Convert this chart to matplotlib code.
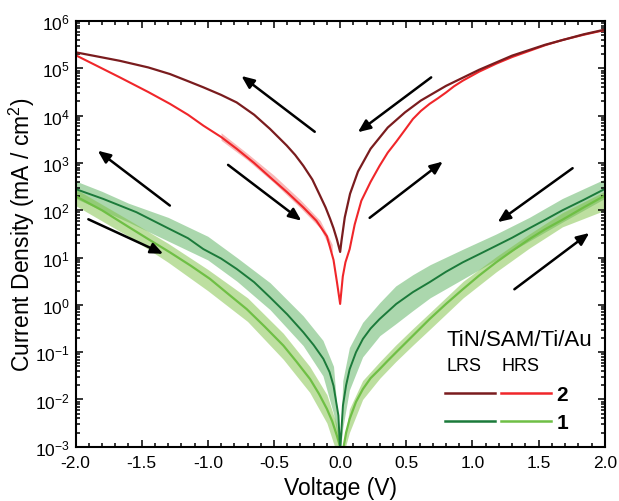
import numpy as np
import matplotlib
matplotlib.use("Agg")
from matplotlib import pyplot as plt
from matplotlib.lines import Line2D
from matplotlib.ticker import MultipleLocator, LogLocator, NullFormatter

plt.rcParams['font.family'] = ['Liberation Sans', 'DejaVu Sans']
plt.rcParams['mathtext.fontset'] = 'custom'
plt.rcParams['mathtext.rm'] = 'Liberation Sans'
plt.rcParams['mathtext.it'] = 'Liberation Sans:italic'
plt.rcParams['mathtext.bf'] = 'Liberation Sans:bold'

# values, current density given as log10(mA/cm2)
v_lrs2 = [-2.0, -1.85, -1.665, -1.45, -1.286, -1.15, -1.034, -0.9, -0.782, -0.65, -0.53, -0.404, -0.34,
          -0.278, -0.21, -0.152, -0.11, -0.076, -0.05, -0.025, 0.0,
          0.01, 0.035, 0.075, 0.135, 0.23, 0.36, 0.49, 0.61, 0.8, 1.05, 1.3, 1.55, 1.84, 2.0]
lg_lrs2 = [5.34, 5.26, 5.16, 5.02, 4.88, 4.73, 4.60, 4.44, 4.28, 4.02, 3.72, 3.37, 3.17,
           2.94, 2.65, 2.31, 2.06, 1.82, 1.62, 1.39, 1.12,
           1.35, 1.85, 2.35, 2.82, 3.3, 3.75, 4.07, 4.32, 4.63, 4.97, 5.27, 5.5, 5.72, 5.82]

v_hrs2 = [-2.0, -1.85, -1.665, -1.45, -1.286, -1.15, -1.034, -0.9, -0.782, -0.65, -0.53, -0.4,
          -0.278, -0.18, -0.10, -0.05, -0.024, 0.0,
          0.02, 0.04, 0.072, 0.11, 0.16, 0.23, 0.298, 0.36, 0.424, 0.49, 0.55, 0.61, 0.676, 0.74,
          0.80, 0.86, 0.927, 1.05, 1.18, 1.3, 1.43, 1.55, 1.68, 1.84, 2.0]
lg_hrs2 = [5.28, 5.07, 4.81, 4.50, 4.25, 4.02, 3.79, 3.55, 3.30, 3.0, 2.70, 2.38,
           2.06, 1.78, 1.45, 0.95, 0.48, 0.02,
           0.6, 0.9, 1.18, 1.7, 2.2, 2.6, 2.94, 3.22, 3.45, 3.7, 3.93, 4.1, 4.25, 4.37,
           4.49, 4.62, 4.74, 4.93, 5.10, 5.24, 5.37, 5.49, 5.60, 5.71, 5.81]

v_hrs2_band = [-0.9, -0.7, -0.5, -0.3, -0.15, -0.06]
lg_hrs2_lo = [3.48, 3.06, 2.58, 2.05, 1.62, 1.10]
lg_hrs2_hi = [3.64, 3.20, 2.74, 2.22, 1.78, 1.28]

v_lrs1 = [-2.0, -1.79, -1.54, -1.3, -1.15, -1.034, -0.9, -0.782, -0.65, -0.53, -0.4, -0.278, -0.2,
          -0.127, -0.08, -0.05, -0.013, 0.0,
          0.021, 0.045, 0.072, 0.12, 0.172, 0.23, 0.298, 0.424, 0.55, 0.676, 0.8, 0.927, 1.05,
          1.179, 1.3, 1.43, 1.55, 1.68, 1.84, 2.0]
lg_lrs1 = [2.45, 2.24, 1.96, 1.62, 1.41, 1.18, 0.98, 0.76, 0.48, 0.16, -0.2, -0.58, -0.85,
           -1.14, -1.42, -1.71, -2.34, -3.1,
           -2.13, -1.7, -1.36, -1.0, -0.72, -0.5, -0.30, 0.02, 0.27, 0.48, 0.70, 0.90, 1.07,
           1.25, 1.42, 1.62, 1.8, 2.0, 2.22, 2.45]

v_hrs1 = [-2.0, -1.8, -1.6, -1.45, -1.286, -1.13, -0.984, -0.85, -0.706, -0.57, -0.429, -0.33,
          -0.227, -0.16, -0.10, -0.06, -0.025, 0.01,
          0.02, 0.045, 0.072, 0.12, 0.172, 0.23, 0.298, 0.36, 0.424, 0.55, 0.676, 0.8, 0.927,
          1.05, 1.179, 1.3, 1.43, 1.55, 1.68, 1.84, 2.0]
lg_hrs1 = [2.30, 2.0, 1.65, 1.39, 1.11, 0.83, 0.55, 0.24, -0.09, -0.46, -0.86, -1.2,
           -1.57, -1.88, -2.20, -2.46, -2.76, -3.1,
           -3.1, -2.7, -2.41, -2.05, -1.78, -1.55, -1.36, -1.18, -1.0, -0.65, -0.30, 0.02, 0.33,
           0.62, 0.90, 1.14, 1.39, 1.6, 1.8, 2.06, 2.31]

v_lrs1_band = [-2.0, -1.8, -1.6, -1.3, -1.0, -0.78, -0.53, -0.28, -0.13, -0.05, 0.0,
               0.02, 0.07, 0.17, 0.3, 0.42, 0.55, 0.68, 0.93, 1.18, 1.43, 1.68, 2.0]
lg_lrs1_hi = [2.62, 2.40, 2.15, 1.85, 1.45, 1.0, 0.47, -0.23, -0.75, -1.3, -3.0,
              -1.6, -0.9, -0.37, 0.05, 0.4, 0.64, 0.85, 1.18, 1.5, 1.85, 2.25, 2.66]
lg_lrs1_lo = [2.25, 2.0, 1.75, 1.35, 0.95, 0.5, -0.1, -0.86, -1.5, -2.3, -3.1,
              -2.6, -1.8, -1.1, -0.65, -0.4, -0.12, 0.15, 0.55, 0.95, 1.35, 1.75, 2.25]

v_hrs1_band = [-2.0, -1.6, -1.3, -1.0, -0.7, -0.43, -0.23, -0.1, -0.03, 0.01,
               0.02, 0.07, 0.17, 0.3, 0.42, 0.55, 0.68, 0.93, 1.18, 1.43, 1.68, 2.0]
lg_hrs1_hi = [2.45, 1.8, 1.3, 0.75, 0.15, -0.6, -1.3, -1.9, -2.5, -3.1,
              -3.1, -2.2, -1.6, -1.2, -0.85, -0.5, -0.16, 0.5, 1.02, 1.5, 1.95, 2.4]
lg_hrs1_lo = [2.10, 1.45, 0.9, 0.3, -0.35, -1.15, -1.85, -2.5, -3.1, -3.2,
              -3.2, -2.7, -2.0, -1.55, -1.2, -0.85, -0.51, 0.15, 0.7, 1.2, 1.65, 2.0]

# sweep direction arrows: (tail V, tail log J, head V, head log J)
arrows = [(-0.192, 3.66, -0.746, 4.84),
          (0.688, 4.81, 0.134, 3.65),
          (-1.287, 2.10, -1.832, 3.26),
          (-0.847, 2.96, -0.293, 1.78),
          (0.223, 1.84, 0.776, 3.03),
          (1.757, 2.89, 1.191, 1.75),
          (-1.903, 1.81, -1.337, 1.08),
          (1.317, 0.33, 1.883, 1.52)]

c_lrs2 = '#7a1c1e'
c_hrs2 = '#f0262a'
c_lrs1 = '#1b7a3a'
c_hrs1 = '#6fbf45'

p = lambda a: 10 ** np.array(a)

fig = plt.figure(figsize=(6.19, 5.02), dpi=100)
ax = fig.add_axes([0.122, 0.108, 0.855, 0.848])

ax.fill_between(v_lrs1_band, p(lg_lrs1_lo), p(lg_lrs1_hi), color='#45a84a', alpha=0.45, lw=0)
ax.fill_between(v_hrs1_band, p(lg_hrs1_lo), p(lg_hrs1_hi), color='#7dc142', alpha=0.5, lw=0)
ax.fill_between(v_hrs2_band, p(lg_hrs2_lo), p(lg_hrs2_hi), color='#f58a8a', alpha=0.6, lw=0)

ax.plot(v_hrs1, p(lg_hrs1), color=c_hrs1, lw=1.6)
ax.plot(v_lrs1, p(lg_lrs1), color=c_lrs1, lw=1.4)
ax.plot(v_hrs2, p(lg_hrs2), color=c_hrs2, lw=1.5)
ax.plot(v_lrs2, p(lg_lrs2), color=c_lrs2, lw=1.6)

for x0, y0, x1, y1 in arrows:
    ax.annotate('', xy=(x1, 10 ** y1), xytext=(x0, 10 ** y0),
                arrowprops=dict(arrowstyle='-|>,head_length=0.75,head_width=0.32', color='black', lw=1.8,
                                shrinkA=0, shrinkB=0))

ax.set_yscale('log')
ax.set_xlim(-2.0, 2.0)
ax.set_ylim(1e-3, 1e6)
ax.xaxis.set_major_locator(MultipleLocator(0.5))
ax.xaxis.set_minor_locator(MultipleLocator(0.1))
ax.set_xticks(np.arange(-2.0, 2.01, 0.5))
ax.set_xticklabels(['%.1f' % t for t in np.arange(-2.0, 2.01, 0.5)])
ax.yaxis.set_major_locator(LogLocator(base=10, numticks=20))
ax.yaxis.set_minor_locator(LogLocator(base=10, subs=np.arange(2, 10), numticks=20))
ax.yaxis.set_minor_formatter(NullFormatter())
ax.tick_params(which='both', direction='in', top=True, right=True, labelsize=12.5, width=1.1)
ax.tick_params(which='major', length=5, pad=6)
ax.tick_params(which='minor', length=2.6)
ax.tick_params(axis='y', pad=4)
for s in ax.spines.values():
    s.set_linewidth(1.5)

ax.set_xlabel('Voltage (V)', fontsize=16.5, labelpad=4)
ax.set_ylabel('Current Density (mA / cm$^2$)', fontsize=16.5, labelpad=-1)

# legend block drawn by hand
fig.text(0.7217, 0.3227, 'TiN/SAM/Ti/Au', fontsize=16, va='center', ha='left')
fig.text(0.7217, 0.269, 'LRS', fontsize=13, va='center', ha='left')
fig.text(0.8105, 0.269, 'HRS', fontsize=13, va='center', ha='left')
fig.add_artist(Line2D([0.719, 0.7997], [0.2151, 0.2151], color=c_lrs2, lw=1.8))
fig.add_artist(Line2D([0.809, 0.8897], [0.2151, 0.2151], color=c_hrs2, lw=1.8))
fig.add_artist(Line2D([0.719, 0.7997], [0.1588, 0.1588], color=c_lrs1, lw=1.8))
fig.add_artist(Line2D([0.809, 0.8897], [0.1588, 0.1588], color=c_hrs1, lw=1.8))
fig.text(0.8994, 0.2131, '2', fontsize=15, fontweight='bold', va='center', ha='left')
fig.text(0.8994, 0.1568, '1', fontsize=15, fontweight='bold', va='center', ha='left')

fig.savefig('out.png', dpi=100)
